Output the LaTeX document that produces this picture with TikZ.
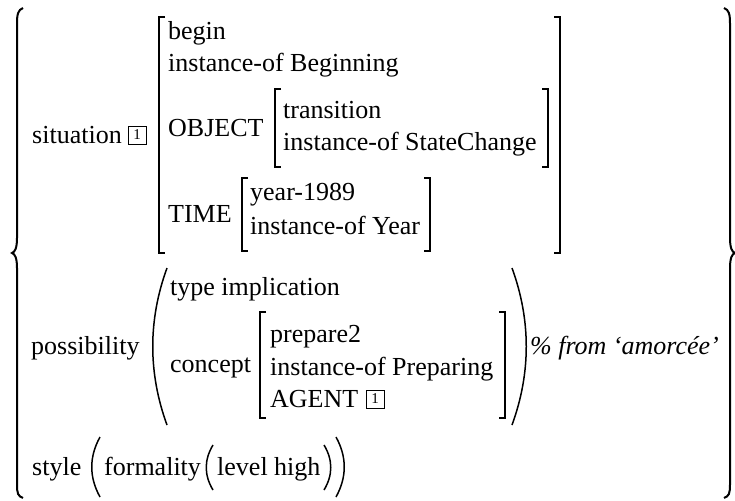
\documentclass[tikz,border=0pt]{standalone}
\usepackage{fontspec}
\setmainfont{Liberation Serif}
\usepackage{tikz}

\tikzset{
  txt/.style={anchor=base west, inner sep=0pt},
  tagbox/.style={draw, line width=0.9pt, inner sep=0pt, minimum size=18pt,
    font=\fontsize{15}{15}\selectfont},
  brk/.style={line width=1.4pt},
  par/.style={line width=1.5pt},
  brace/.style={line width=2pt}
}

\begin{document}
\begin{tikzpicture}[x=1pt, y=-1pt, font=\fontsize{26}{31}\selectfont]
           \useasboundingbox (0,0) rectangle (735,500);

           % Klammene rundt alt
           \draw[brace] (23,8) .. controls (18,10) and (17,14) .. (17,24) -- (17,238)
             .. controls (17,248) and (15,252) .. (12,253) .. controls (15,254) and (17,258) .. (17,268)
             -- (17,484) .. controls (17,494) and (18,496) .. (23,498);
           \draw[brace] (724,8) .. controls (729,10) and (730,14) .. (730,24) -- (730,238)
             .. controls (730,248) and (732,252) .. (735,253) .. controls (732,254) and (730,258) .. (730,268)
             -- (730,484) .. controls (730,494) and (729,496) .. (724,498);

           % situation
           \node[txt] (sit) at (32,143) {situation};
           \node[tagbox] (sittag) at (137,135) {1};
           \draw[brk] (165,17) -- (159,17) -- (159,253) -- (165,253);
           \draw[brk] (554,17) -- (560,17) -- (560,253) -- (554,253);
           \node[txt] (beg) at (168,40) {begin};
           \node[txt] (beginst) at (168,72) {instance-of Beginning};

           \node[txt] (obj) at (168,136) {OBJECT};
           \draw[brk] (281,89) -- (275,89) -- (275,167) -- (281,167);
           \draw[brk] (542,89) -- (548,89) -- (548,167) -- (542,167);
           \node[txt] (trans) at (283,118) {transition};
           \node[txt] (transinst) at (283,150) {instance-of StateChange};

           \node[txt] (time) at (168,222) {TIME};
           \draw[brk] (248,178) -- (242,178) -- (242,251) -- (248,251);
           \draw[brk] (424,178) -- (430,178) -- (430,251) -- (424,251);
           \node[txt] (year) at (250,200) {year-1989};
           \node[txt] (yearinst) at (250,234) {instance-of Year};

           % possibility
           \node[txt] (poss) at (31,354) {possibility};
           \draw[par] (167,268) .. controls (148,320) and (148,373) .. (167,425);
           \draw[par] (512,268) .. controls (531,320) and (531,373) .. (512,425);
           \node[txt] (type) at (170,295) {type implication};
           \node[txt] (conc) at (170,372) {concept};
           \draw[brk] (266,312) -- (260,312) -- (260,418) -- (266,418);
           \draw[brk] (499,312) -- (505,312) -- (505,418) -- (499,418);
           \node[txt] (prep) at (270,342) {prepare2};
           \node[txt] (prepinst) at (270,375) {instance-of Preparing};
           \node[txt] (agent) at (270,407) {AGENT};
           \node[tagbox] (agenttag) at (375,399) {1};
           \node[txt] (note) at (530,354) {\itshape\% from ‘amorcée’};

           % style
           \node[txt] (sty) at (32,475) {style};
           \draw[par] (100,437) .. controls (89,457) and (89,477) .. (100,497);
           \node[txt] (form) at (104,475) {formality};
           \draw[par] (213,445) .. controls (204,460) and (204,475) .. (213,490);
           \node[txt] (level) at (217,475) {level high};
           \draw[par] (324,445) .. controls (333,460) and (333,475) .. (324,490);
           \draw[par] (336,437) .. controls (347,457) and (347,477) .. (336,497);

         \end{tikzpicture}
\end{document}
